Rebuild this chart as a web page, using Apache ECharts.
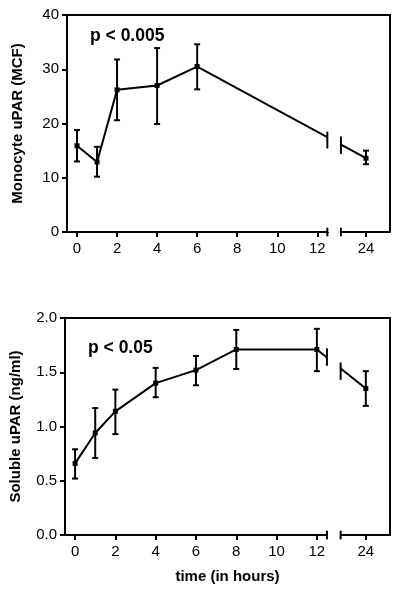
<!DOCTYPE html>
<html><head><meta charset="utf-8">
<script src="https://cdn.jsdelivr.net/npm/echarts@6/dist/echarts.min.js"></script>
<style>html,body{margin:0;padding:0;background:#fff}#c{width:401px;height:592px}</style>
</head><body><div id="c"></div>
<script>
// ---- data ----
const xTickValues = [0, 2, 4, 6, 8, 10, 12, 24];
const breakStart = 12.5;
const breakEnd = 22.75;

// top panel: monocyte uPAR (MCF)
const monoTime = [0, 1, 2, 4, 6, 24];
const monoMean = [15.9, 12.9, 26.2, 27.0, 30.5, 13.6];
const monoLow = [13.0, 10.2, 20.6, 19.9, 26.3, 12.5];
const monoHigh = [18.8, 15.7, 31.8, 33.9, 34.6, 15.0];
const monoBreakX = [12.5, 22.75, 12.5, 22.75];
const monoBreakLow = [15.4, 14.4, -0.8, -0.8];
const monoBreakHigh = [18.5, 17.6, 0.8, 0.8];

// bottom panel: soluble uPAR (ng/ml)
const solTime = [0, 1, 2, 4, 6, 8, 12, 24];
const solMean = [0.66, 0.94, 1.14, 1.40, 1.52, 1.71, 1.71, 1.35];
const solLow = [0.52, 0.71, 0.93, 1.27, 1.38, 1.53, 1.51, 1.19];
const solHigh = [0.79, 1.17, 1.34, 1.54, 1.65, 1.89, 1.90, 1.51];
const solBreakX = [12.5, 22.75, 12.5, 22.75];
const solBreakLow = [1.56, 1.43, -0.04, -0.04];
const solBreakHigh = [1.72, 1.59, 0.04, 0.04];

const monoTicksY = [0, 10, 20, 30, 40];
const solTicksY = [0, 0.5, 1.0, 1.5, 2.0];

// ---- helpers ----
const FONT = '"Liberation Sans", Arial, sans-serif';
function rangeRender(cap) {
  return function (params, api) {
    const x = api.value(0), lo = api.value(1), hi = api.value(2);
    const a = api.coord([x, hi]), b = api.coord([x, lo]);
    const st = { stroke: '#000', lineWidth: 2 };
    const ch = [{ type: 'line', shape: { x1: a[0], y1: a[1], x2: b[0], y2: b[1] }, style: st }];
    if (cap > 0) {
      ch.push({ type: 'line', shape: { x1: a[0] - cap, y1: a[1], x2: a[0] + cap, y2: a[1] }, style: st });
      ch.push({ type: 'line', shape: { x1: b[0] - cap, y1: b[1], x2: b[0] + cap, y2: b[1] }, style: st });
    }
    return { type: 'group', children: ch };
  };
}
const zip3 = (a, b, c) => a.map((v, i) => [v, b[i], c[i]]);
const zip2 = (a, b) => a.map((v, i) => [v, b[i]]);

function bottomX(gridIndex, withName) {
  const ax = {
    type: 'value', gridIndex: gridIndex, position: 'bottom',
    min: -0.5, max: 25.2,
    breaks: [{ start: breakStart, end: breakEnd, gap: 0.68 }],
    breakArea: { show: true, itemStyle: { color: '#fff', borderWidth: 0, opacity: 1 }, zigzagAmplitude: 0, expandOnClick: false },
    splitLine: { show: false },
    axisLine: { onZero: false, lineStyle: { color: '#000', width: 2 } },
    axisTick: { customValues: xTickValues, length: 5, lineStyle: { color: '#000', width: 2 } },
    axisLabel: { customValues: xTickValues, color: '#000', fontSize: 15, fontFamily: FONT, margin: 9 }
  };
  if (withName) {
    ax.name = 'time (in hours)';
    ax.nameLocation = 'middle';
    ax.nameGap = 34;
    ax.nameTextStyle = { color: '#000', fontSize: 15, fontWeight: 'bold', fontFamily: FONT };
  }
  return ax;
}
function topX(gridIndex) {
  return {
    type: 'value', gridIndex: gridIndex, position: 'top', min: -0.5, max: 25.2, z: 300,
    axisLine: { show: true, onZero: false, lineStyle: { color: '#000', width: 2 } },
    axisTick: { show: false }, axisLabel: { show: false }, splitLine: { show: false }
  };
}
function leftY(gridIndex, min, max, interval, name, fmt) {
  return {
    type: 'value', gridIndex: gridIndex, position: 'left', min: min, max: max, interval: interval,
    name: name, nameLocation: 'middle', nameGap: 42,
    nameTextStyle: { color: '#000', fontSize: 15, fontWeight: 'bold', fontFamily: FONT },
    axisLine: { show: true, onZero: false, lineStyle: { color: '#000', width: 2 } },
    axisTick: { show: true, length: 5, lineStyle: { color: '#000', width: 2 } },
    axisLabel: { color: '#000', fontSize: 15, fontFamily: FONT, margin: 8, formatter: fmt },
    splitLine: { show: false }
  };
}
function rightY(gridIndex, min, max) {
  return {
    type: 'value', gridIndex: gridIndex, position: 'right', min: min, max: max,
    axisLine: { show: true, onZero: false, lineStyle: { color: '#000', width: 2 } },
    axisTick: { show: false }, axisLabel: { show: false }, splitLine: { show: false }
  };
}

const chart = echarts.init(document.getElementById('c'), null, { renderer: 'canvas' });
chart.setOption({
  backgroundColor: '#fff',
  animation: false,
  title: [
    { text: 'p < 0.005', left: 85, top: 22, textStyle: { fontSize: 17.5, fontWeight: 'bold', color: '#000', fontFamily: FONT } },
    { text: 'p < 0.05', left: 83, top: 334, textStyle: { fontSize: 17.5, fontWeight: 'bold', color: '#000', fontFamily: FONT } }
  ],
  grid: [
    { left: 67, top: 15, right: 11, height: 217, containLabel: false },
    { left: 64, top: 318, right: 11, height: 217, containLabel: false }
  ],
  xAxis: [bottomX(0, false), topX(0), bottomX(1, true), topX(1)],
  yAxis: [
    leftY(0, monoTicksY[0], monoTicksY[monoTicksY.length - 1], 10, 'Monocyte uPAR (MCF)', v => String(v)),
    rightY(0, 0, 40),
    leftY(1, solTicksY[0], solTicksY[solTicksY.length - 1], 0.5, 'Soluble uPAR (ng/ml)', v => v.toFixed(1)),
    rightY(1, 0, 2)
  ],
  series: [
    { type: 'line', xAxisIndex: 0, yAxisIndex: 0, data: zip2(monoTime, monoMean),
      symbol: 'rect', symbolSize: 5, itemStyle: { color: '#000' }, lineStyle: { color: '#000', width: 2 }, z: 3 },
    { type: 'custom', xAxisIndex: 0, yAxisIndex: 0, data: zip3(monoTime, monoLow, monoHigh),
      renderItem: rangeRender(3), encode: { x: 0, y: [1, 2] }, z: 4 },
    { type: 'custom', xAxisIndex: 0, yAxisIndex: 0, data: zip3(monoBreakX, monoBreakLow, monoBreakHigh),
      renderItem: rangeRender(0), encode: { x: 0, y: [1, 2] }, z: 200 },
    { type: 'line', xAxisIndex: 2, yAxisIndex: 2, data: zip2(solTime, solMean),
      symbol: 'rect', symbolSize: 5, itemStyle: { color: '#000' }, lineStyle: { color: '#000', width: 2 }, z: 3 },
    { type: 'custom', xAxisIndex: 2, yAxisIndex: 2, data: zip3(solTime, solLow, solHigh),
      renderItem: rangeRender(3), encode: { x: 0, y: [1, 2] }, z: 4 },
    { type: 'custom', xAxisIndex: 2, yAxisIndex: 2, data: zip3(solBreakX, solBreakLow, solBreakHigh),
      renderItem: rangeRender(0), encode: { x: 0, y: [1, 2] }, z: 200 }
  ]
});
</script></body></html>
